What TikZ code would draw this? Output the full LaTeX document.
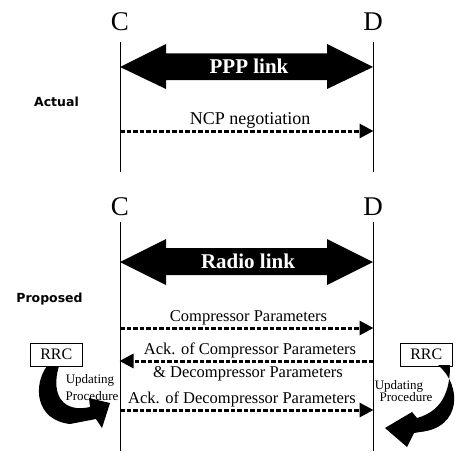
\documentclass[tikz,border=0pt]{standalone}
\usepackage{fontspec}
\setmainfont{Liberation Serif}
\newfontfamily\labfont{DejaVu Sans}
\usetikzlibrary{arrows.meta}
\tikzset{
  ent/.style={font=\fontsize{27}{30}\selectfont, anchor=base, inner sep=0pt},
  life/.style={line width=0.9pt},
  bigarrow/.style={fill=black},
  linktxt/.style={font=\bfseries\fontsize{21}{24}\selectfont, text=white, anchor=base, inner sep=0pt},
  msgtxt/.style={font=\fontsize{16.5}{19}\selectfont, anchor=base, inner sep=0pt},
  msg/.style={line width=3pt, dash pattern=on 4.5pt off 2pt, -{Triangle[width=14pt,length=14pt]}, shorten >=-0.5pt},
  phase/.style={font=\labfont\bfseries\fontsize{12.5}{14}\selectfont, anchor=base, inner sep=0pt},
  rrc/.style={draw, line width=0.8pt, minimum width=52pt, minimum height=23pt, inner sep=0pt, font=\fontsize{16}{18}\selectfont},
  updtxt/.style={font=\fontsize{13}{15}\selectfont, anchor=base, inner sep=0pt},
}
\begin{document}
\begin{tikzpicture}[x=1pt,y=-1pt]
\useasboundingbox (0,0) rectangle (457,452);
% ---------- Actual ----------
\node[ent] (c1) at (120,30.5) {C};
\node[ent] (d1) at (373,30.5) {D};
\coordinate (c1t) at (120,42); \coordinate (c1b) at (120,172);
\coordinate (d1t) at (373,42); \coordinate (d1b) at (373,172);
\draw[life] (c1t) -- (c1b);
\draw[life] (d1t) -- (d1b);
\fill[bigarrow] (120,67) -- (166,44) -- (166,53.5) -- (327,53.5) -- (327,44) -- (373,67) -- (327,89) -- (327,80) -- (166,80) -- (166,89) -- cycle;
\node[linktxt] (ppp) at (249,73.3) {PPP link};
\node[phase] (actual) at (56.5,106.5) {Actual};
\node[msgtxt, font=\fontsize{18}{20}\selectfont] (ncp) at (250,124.5) {NCP negotiation};
\coordinate (m0a) at (120,131); \coordinate (m0b) at (373,131);
\draw[msg] (m0a) -- (m0b);
% ---------- Proposed ----------
\node[ent] (c2) at (120,215) {C};
\node[ent] (d2) at (373,215) {D};
\coordinate (c2t) at (120,222); \coordinate (c2b) at (120,451);
\coordinate (d2t) at (373,222); \coordinate (d2b) at (373,451);
\draw[life] (c2t) -- (c2b);
\draw[life] (d2t) -- (d2b);
\fill[bigarrow] (120,262) -- (166,239) -- (166,248) -- (327,248) -- (327,239) -- (373,262) -- (327,285) -- (327,275) -- (166,275) -- (166,285) -- cycle;
\node[linktxt] (radio) at (248,268) {Radio link};
\node[phase] (proposed) at (49.5,302.5) {Proposed};
\node[msgtxt] (m1t) at (248.5,321) {Compressor Parameters};
\coordinate (m1a) at (120,328); \coordinate (m1b) at (373,328);
\draw[msg] (m1a) -- (m1b);
\node[msgtxt] (m2t) at (250,354) {Ack. of Compressor Parameters};
\coordinate (m2a) at (373,361); \coordinate (m2b) at (120,361);
\draw[msg] (m2a) -- (m2b);
\node[msgtxt] (m2u) at (248,377) {\& Decompressor Parameters};
\node[msgtxt] (m3t) at (242,403) {Ack. of Decompressor Parameters};
\coordinate (m3a) at (120,410); \coordinate (m3b) at (373,410);
\draw[msg] (m3a) -- (m3b);
% RRC boxes
\node[rrc] (rrcl) at (56.3,354.5) {RRC};
\node[rrc] (rrcr) at (426.3,354.5) {RRC};
% curved arrows
\fill (47,366) .. controls (33,385) and (35,420) .. (70,424) -- (96,419) -- (102,428) -- (110,403) -- (89,398) -- (90,407)
  .. controls (64,413) and (50,396) .. (59,366) -- cycle;
\fill (438,365) .. controls (462,385) and (462,428) .. (420,432) -- (414,433) -- (407,447) -- (385,428) -- (412,412) -- (417,418)
  .. controls (446,410) and (450,385) .. (450,365) -- cycle;
\node[updtxt] (updl) at (90,383) {Updating};
\node[updtxt] (procl) at (92,400) {Procedure};
\node[updtxt] (updr) at (399,389) {Updating};
\node[updtxt] (procr) at (406,401) {Procedure};
\end{tikzpicture}
\end{document}
